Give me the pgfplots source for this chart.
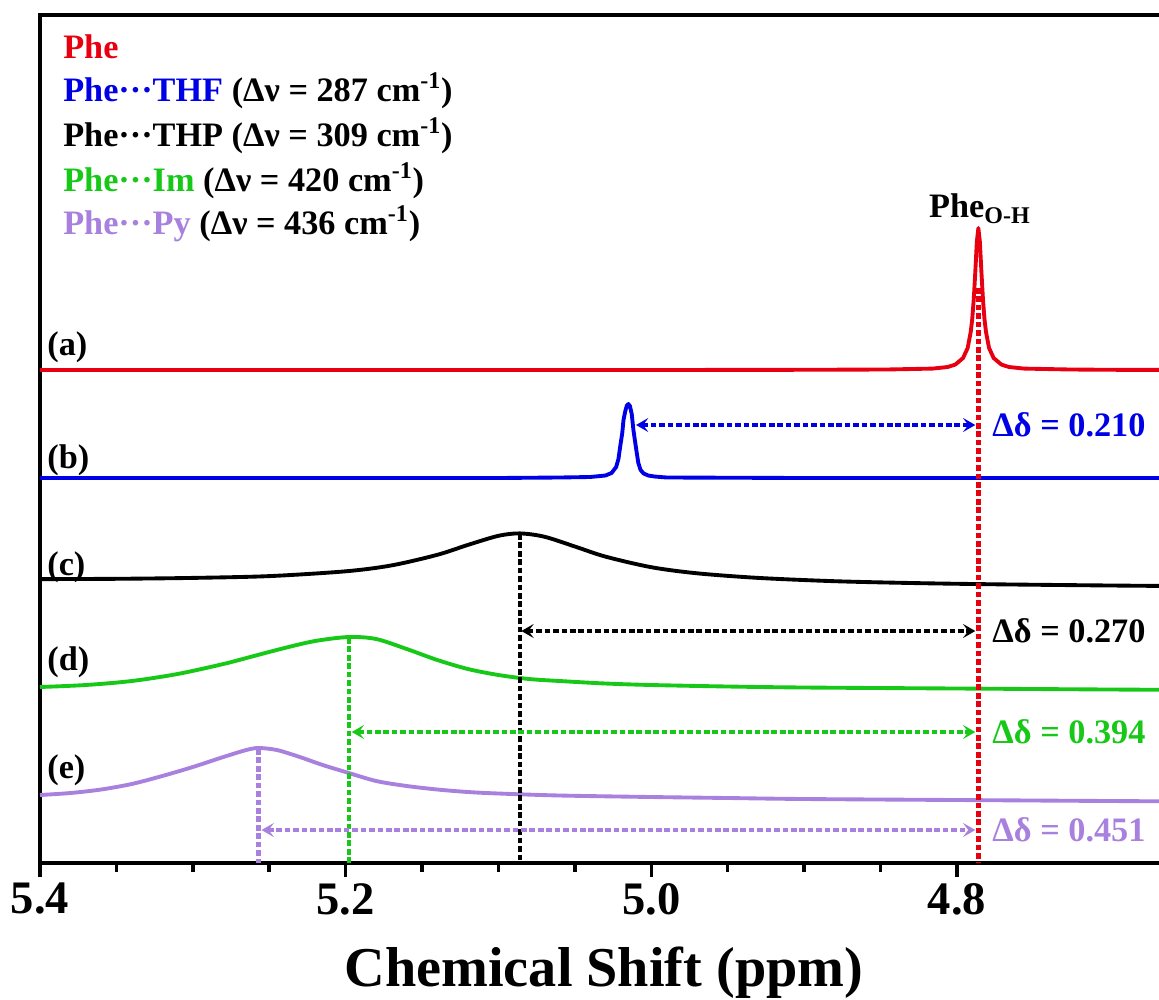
\documentclass[border=0pt]{standalone}
\usepackage{fontspec}
\setmainfont{Liberation Serif}
\usepackage{pgfplots}
\pgfplotsset{compat=1.18}
\usetikzlibrary{arrows.meta}

\definecolor{cRed}{RGB}{232,0,16}
\definecolor{cBlue}{RGB}{0,0,230}
\definecolor{cGreen}{RGB}{24,200,24}
\definecolor{cPurple}{RGB}{168,128,222}

\newcommand\lab{\fontsize{19.5}{23}\selectfont\bfseries}
\tikzset{
  dotl/.style={line width=2.5pt, dash pattern=on 3.2pt off 1.6pt},
  dd/.style={dotl, {Stealth[length=7pt,width=8pt,inset=3pt]}-{Stealth[length=7pt,width=8pt,inset=3pt]}},
}

\begin{document}
\begin{tikzpicture}
\begin{axis}[
    scale only axis,
    width=23.23cm, height=16.96cm,
    x dir=reverse,
    xmin=4.64, xmax=5.4,
    ymin=0, ymax=848,
    xtick={4.8,5.0,5.2,5.4},
    minor x tick num=3,
    ytick=\empty,
    xtick pos=bottom,
    tick align=outside,
    major tick length=0.28cm,
    minor tick length=0.17cm,
    tick style={black, line width=2pt},
    axis line style={line width=2.3pt},
    xticklabel style={font=\fontsize{26.5}{30}\selectfont\bfseries,
        /pgf/number format/.cd, fixed, fixed zerofill, precision=1,
        assume math mode=true},
    xlabel={Chemical Shift (ppm)},
    xlabel style={font=\fontsize{32}{38}\selectfont\bfseries,
        at={(axis cs:5.031,0)}, anchor=base, yshift=-2.46cm},
    every axis plot/.append style={line width=2.2pt, line join=round},
]

% (a) Phe
\addplot[cRed] coordinates {
 (5.4,493)(5.2,493)(5.0,493)(4.9,493.2)(4.846,493.5)(4.816,494.4)(4.806,496)
 (4.801,498.5)(4.796,505)(4.793,515)(4.791,531)(4.790,544)(4.789,564)(4.788,591)
 (4.787,621)(4.786,635)(4.785,621)(4.784,591)(4.783,564)(4.782,544)(4.781,531)
 (4.779,515)(4.776,505)(4.771,498.5)(4.766,496)(4.756,494.4)(4.726,493.5)
 (4.7,493.2)(4.64,493)
};

% (b) Phe...THF
\addplot[cBlue] coordinates {
 (5.4,385)(5.2,385)(5.1,385)(5.06,385.5)(5.04,386)(5.03,387.5)(5.026,390)
 (5.023,396)(5.0215,404)(5.0204,416)(5.019,430)(5.0182,443)(5.017,452)
 (5.016,457.5)(5.015,459)(5.014,457)(5.0128,449)(5.0117,433)(5.010,415)
 (5.0085,400)(5.007,393)(5.005,389.5)(5.002,387.5)(4.998,386.5)(4.99,385.5)
 (4.9,385)(4.64,385)
};

% (c) Phe...THP
\addplot[black, smooth] coordinates {
 (5.40,283.9)(5.35,284.2)(5.30,285.1)(5.25,286.9)(5.20,291.7)(5.17,297.6)
 (5.14,308.2)(5.12,318.1)(5.10,327.2)(5.086,329.6)(5.07,326.3)(5.05,316.5)
 (5.03,306.4)(5.00,295.8)(4.97,289.7)(4.93,285.1)(4.88,281.8)(4.83,280.0)
 (4.78,278.8)(4.72,277.8)(4.668,277.1)(4.64,277)
};

% (d) Phe...Im
\addplot[cGreen, smooth] coordinates {
 (5.40,176)(5.37,178)(5.34,182)(5.31,189)(5.28,199)(5.26,207)(5.24,215)
 (5.22,222)(5.198,226)(5.18,224)(5.16,214)(5.14,203)(5.12,194)(5.10,188)
 (5.08,184)(5.06,182)(5.03,179.5)(5.00,178)(4.95,176.5)(4.90,175.5)
 (4.80,174.5)(4.70,173.5)(4.64,173)
};

% (e) Phe...Py
\addplot[cPurple, smooth] coordinates {
 (5.40,68)(5.38,70)(5.36,73.5)(5.34,79)(5.32,87)(5.30,96)(5.28,106)
 (5.265,113)(5.257,115)(5.245,113)(5.23,106)(5.215,98)(5.20,91)(5.18,82)
 (5.16,77)(5.14,73.5)(5.12,71)(5.10,69.5)(5.06,67.5)(5.00,66)(4.95,65)
 (4.90,64)(4.80,63)(4.70,62)(4.64,61.5)
};

% peak markers
\draw[dotl, cRed] (axis cs:4.786,575) -- (axis cs:4.786,0);
\draw[dotl, black] (axis cs:5.086,329) -- (axis cs:5.086,0);
\draw[dotl, cGreen] (axis cs:5.198,225) -- (axis cs:5.198,0);
\draw[dotl, cPurple] (axis cs:5.257,114) -- (axis cs:5.257,0);

\draw[dd, cBlue] (axis cs:5.010,438) -- (axis cs:4.788,438);
\draw[dd, black] (axis cs:5.085,232) -- (axis cs:4.788,232);
\draw[dd, cGreen] (axis cs:5.196,131) -- (axis cs:4.788,131);
\draw[dd, cPurple] (axis cs:5.255,33) -- (axis cs:4.788,33);

\node[anchor=west, inner sep=0, text=cBlue, font=\lab] at (axis cs:4.777,438) {Δδ = 0.210};
\node[anchor=west, inner sep=0, text=black, font=\lab] at (axis cs:4.777,232) {Δδ = 0.270};
\node[anchor=west, inner sep=0, text=cGreen, font=\lab] at (axis cs:4.777,131) {Δδ = 0.394};
\node[anchor=west, inner sep=0, text=cPurple, font=\lab] at (axis cs:4.777,33) {Δδ = 0.451};

% trace labels
\node[anchor=west, inner sep=0, font=\lab] at (axis cs:5.3954,516) {(a)};
\node[anchor=west, inner sep=0, font=\lab] at (axis cs:5.3954,403) {(b)};
\node[anchor=west, inner sep=0, font=\lab] at (axis cs:5.3954,296) {(c)};
\node[anchor=west, inner sep=0, font=\lab] at (axis cs:5.3954,201) {(d)};
\node[anchor=west, inner sep=0, font=\lab] at (axis cs:5.3954,93) {(e)};

\node[anchor=base, inner sep=0, font=\lab] at (axis cs:4.785,645) {Phe\textsubscript{O-H}};

% legend text
\node[anchor=base west, inner sep=0, font=\lab, text=cRed] at (axis cs:5.385,804) {Phe};
\node[anchor=base west, inner sep=0, font=\lab] at (axis cs:5.385,761)
  {\textcolor{cBlue}{Phe···THF} (Δν = 287 cm\textsuperscript{-1})};
\node[anchor=base west, inner sep=0, font=\lab] at (axis cs:5.385,716)
  {Phe···THP (Δν = 309 cm\textsuperscript{-1})};
\node[anchor=base west, inner sep=0, font=\lab] at (axis cs:5.385,671)
  {\textcolor{cGreen}{Phe···Im} (Δν = 420 cm\textsuperscript{-1})};
\node[anchor=base west, inner sep=0, font=\lab] at (axis cs:5.385,628)
  {\textcolor{cPurple}{Phe···Py} (Δν = 436 cm\textsuperscript{-1})};
\end{axis}
\pgfresetboundingbox
\path[use as bounding box] ([shift={(-0.8cm,-2.72cm)}]current axis.south west)
  rectangle ([shift={(22.38cm,0.3cm)}]current axis.north west);
\end{tikzpicture}
\end{document}
